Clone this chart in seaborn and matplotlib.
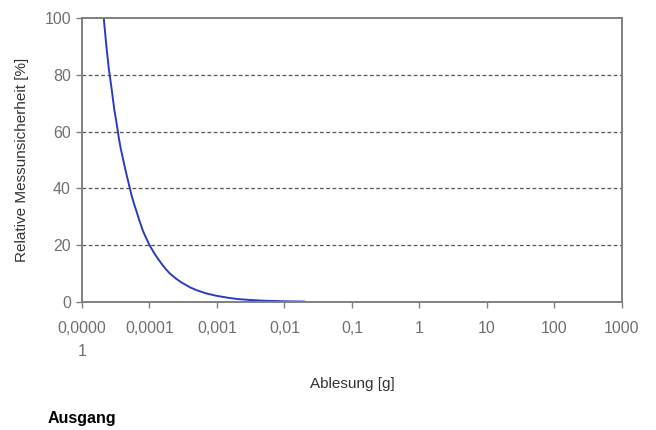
import numpy as np
import pandas as pd
import matplotlib
matplotlib.use('Agg')
import matplotlib.pyplot as plt
import seaborn as sns

# Values
ablesung = [2.1e-5, 2.3e-5, 2.5e-5, 2.75e-5, 3e-5, 3.25e-5, 3.5e-5, 3.75e-5, 4e-5,
            4.5e-5, 5e-5, 5.5e-5, 6e-5, 6.5e-5, 7e-5, 8e-5, 9e-5, 1e-4,
            1.2e-4, 1.5e-4, 1.75e-4, 2e-4, 2.5e-4, 3e-4, 4e-4, 5e-4, 7e-4,
            1e-3, 1.5e-3, 2e-3, 3e-3, 5e-3, 1e-2, 2e-2]
unsicherheit = [100, 90, 82, 75, 68, 63, 58, 54, 51,
                45.5, 41, 37, 34, 31.5, 29, 25, 22.3, 20,
                16.8, 13.5, 11.5, 10, 8.1, 6.8, 5.1, 4.1, 2.95,
                2.1, 1.4, 1.0, 0.68, 0.4, 0.2, 0.1]

tick_values = [1e-5, 1e-4, 1e-3, 1e-2, 1e-1, 1, 10, 100, 1000]
tick_labels = ['0,0000\n1', '0,0001', '0,001', '0,01', '0,1', '1', '10', '100', '1000']
y_ticks = [0, 20, 40, 60, 80, 100]

df = pd.DataFrame({'Ablesung': ablesung, 'Unsicherheit': unsicherheit})

sns.set_style('white')
plt.rcParams['font.family'] = ['Liberation Sans', 'DejaVu Sans']

fig = plt.figure(figsize=(6.56, 4.30), dpi=100)
ax = fig.add_axes([0.125, 0.298, 0.823, 0.660])

sns.lineplot(data=df, x='Ablesung', y='Unsicherheit', color='#2b3cc0', linewidth=1.4, ax=ax)

ax.set_xscale('log')
ax.set_xlim(1e-5, 1000)
ax.set_ylim(0, 100)
ax.set_xticks(tick_values)
ax.set_xticklabels(tick_labels, linespacing=1.6)
ax.minorticks_off()
ax.set_yticks(y_ticks)

for y in y_ticks[1:-1]:
    ax.axhline(y, color='#555555', linestyle=(0, (3, 2)), linewidth=0.9, zorder=0)

for s in ax.spines.values():
    s.set_color('#808080')
    s.set_linewidth(1.4)

ax.tick_params(axis='both', colors='#808080', labelcolor='#707070', labelsize=11.5,
               length=4, width=1, direction='out', bottom=True, left=True)
ax.tick_params(axis='x', pad=10)
ax.tick_params(axis='y', pad=4)

ax.set_xlabel('Ablesung [g]', fontsize=11, color='#333333', labelpad=13)
ax.set_ylabel('Relative Messunsicherheit [%]', fontsize=11, color='#333333', labelpad=11)

fig.text(48 / 656, 1 - 418 / 430, 'Ausgang', fontsize=11.5, fontweight='bold',
         color='black', va='center', ha='left')

fig.savefig('out.png', dpi=100)
plt.close(fig)
